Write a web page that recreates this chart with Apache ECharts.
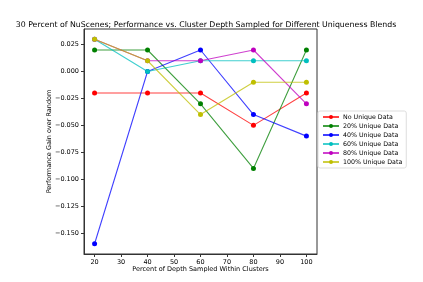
<!DOCTYPE html>
<html>
<head>
<meta charset="utf-8">
<script src="https://cdn.jsdelivr.net/npm/echarts@6/dist/echarts.min.js"></script>
<style>
  html, body { margin: 0; padding: 0; background: #fff; }
  #chart { width: 423px; height: 282px; }
</style>
</head>
<body>
<div id="chart"></div>
<script>
var depths = [20, 40, 60, 80, 100];
var noUnique = [-0.02, -0.02, -0.02, -0.05, -0.02];
var unique20 = [0.02, 0.02, -0.03, -0.09, 0.02];
var unique40 = [-0.16, 0.0, 0.02, -0.04, -0.06];
var unique60 = [0.03, 0.0, 0.01, 0.01, 0.01];
var unique80 = [0.03, 0.01, 0.01, 0.02, -0.03];
var unique100 = [0.03, 0.01, -0.04, -0.01, -0.01];
var xTicks = [20, 30, 40, 50, 60, 70, 80, 90, 100];
var yTicks = [-0.15, -0.125, -0.1, -0.075, -0.05, -0.025, 0, 0.025];

var seriesDefs = [
  { name: "No Unique Data", data: noUnique, color: "#ff0000" },
  { name: "20% Unique Data", data: unique20, color: "#008000" },
  { name: "40% Unique Data", data: unique40, color: "#0000ff" },
  { name: "60% Unique Data", data: unique60, color: "#00bfbf" },
  { name: "80% Unique Data", data: unique80, color: "#bf00bf" },
  { name: "100% Unique Data", data: unique100, color: "#bfbf00" }
];

var font = "DejaVu Sans";

function fmtY(v) {
  var s = v.toFixed(3);
  return s.replace("-", "\u2212");
}

var option = {
  animation: false,
  textStyle: { fontFamily: font },
  title: {
    text: "30 Percent of NuScenes; Performance vs. Cluster Depth Sampled for Different Uniqueness Blends",
    left: 201,
    top: 16,
    textAlign: "center",
    textStyle: { fontFamily: font, fontSize: 7.8, fontWeight: "normal", color: "#000" }
  },
  grid: {
    left: 84, top: 29, right: 106, bottom: 28,
    show: true, borderColor: "#333", borderWidth: 1, backgroundColor: "transparent"
  },
  legend: {
    orient: "vertical",
    left: 318, top: 111,
    itemWidth: 16, itemHeight: 5, itemGap: 3,
    padding: [3, 4, 3, 4],
    borderColor: "#ddd", borderWidth: 1, borderRadius: 2,
    textStyle: { fontFamily: font, fontSize: 6.3, color: "#000", padding: [0, 0, 0, -1] },
    data: seriesDefs.map(function (s) { return s.name; })
  },
  xAxis: {
    type: "value",
    min: 16, max: 104,
    name: "Percent of Depth Sampled Within Clusters",
    nameLocation: "middle",
    nameGap: 15,
    nameMoveOverlap: false,
    nameTextStyle: { fontFamily: font, fontSize: 6.5, color: "#000", verticalAlign: "middle" },
    axisLine: { show: true, onZero: false, lineStyle: { color: "#333" } },
    axisTick: { show: true, length: 3, inside: false, customValues: xTicks, lineStyle: { color: "#333" } },
    axisLabel: { fontSize: 6.5, color: "#000", margin: 5, customValues: xTicks },
    splitLine: { show: false }
  },
  yAxis: {
    type: "value",
    min: -0.1695, max: 0.0395,
    name: "Performance Gain over Random",
    nameLocation: "middle",
    nameGap: 35,
    nameMoveOverlap: false,
    nameTextStyle: { fontFamily: font, fontSize: 6.5, color: "#000", verticalAlign: "middle" },
    axisLine: { show: true, onZero: false, lineStyle: { color: "#333" } },
    axisTick: { show: true, length: 3, inside: false, customValues: yTicks, lineStyle: { color: "#333" } },
    axisLabel: { fontSize: 6.5, color: "#000", margin: 5, customValues: yTicks, formatter: fmtY },
    splitLine: { show: false }
  },
  series: seriesDefs.map(function (s) {
    return {
      name: s.name,
      type: "line",
      data: depths.map(function (d, i) { return [d, s.data[i]]; }),
      symbol: "circle",
      symbolSize: 5,
      itemStyle: { color: s.color },
      lineStyle: { color: s.color, width: 1.1, opacity: 0.75 }
    };
  })
};

var chart = echarts.init(document.getElementById("chart"), null, { renderer: "canvas" });
chart.setOption(option);
</script>
</body>
</html>
